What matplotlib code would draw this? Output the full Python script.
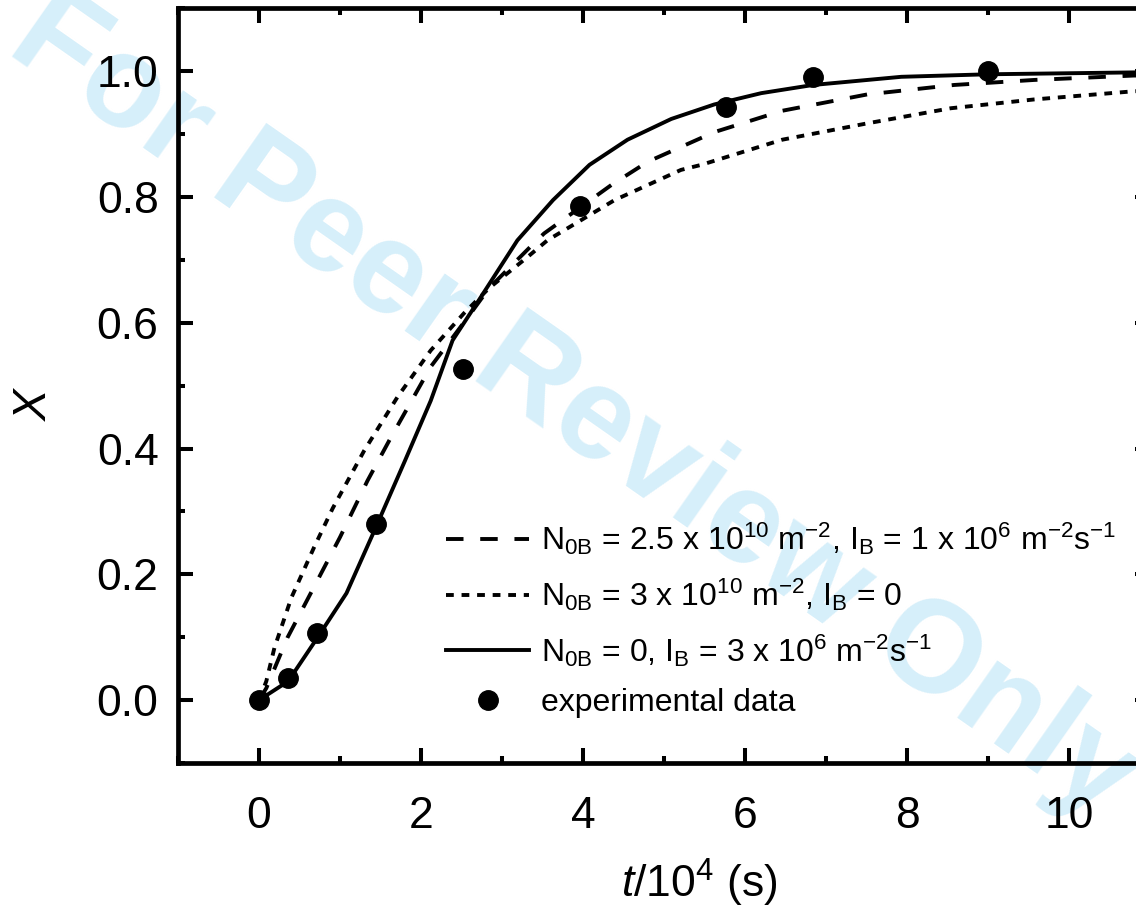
import numpy as np
import matplotlib.pyplot as plt

plt.rcParams['font.family'] = ['Liberation Sans', 'DejaVu Sans']
plt.rcParams['mathtext.fontset'] = 'custom'
plt.rcParams['mathtext.rm'] = 'Liberation Sans'
plt.rcParams['mathtext.it'] = 'Liberation Sans:italic'

# experimental points (t in 10^4 s)
t_exp = [0, 0.36, 0.72, 1.44, 2.52, 3.96, 5.76, 6.84, 9.0]
x_exp = [0, 0.035, 0.107, 0.280, 0.526, 0.785, 0.943, 0.991, 1.0]

# N0B = 0, IB = 3e6 (solid)
t_solid = [0, 0.36, 0.72, 1.08, 1.44, 1.8, 2.12, 2.39, 2.74, 3.19, 3.63, 4.08,
           4.55, 5.09, 5.62, 6.20, 6.84, 7.93, 9.0, 10.8, 11.0]
x_solid = [0, 0.030, 0.099, 0.17, 0.274, 0.38, 0.476, 0.572, 0.641, 0.731, 0.795,
           0.851, 0.891, 0.924, 0.947, 0.965, 0.978, 0.991, 0.995, 0.998, 0.998]

# N0B = 2.5e10, IB = 1e6 (dashed)
t_dash = [0, 0.09, 0.35, 0.72, 1.0, 1.34, 1.63, 2.12, 2.58, 2.84, 3.36, 3.52,
          4.35, 4.80, 5.62, 6.46, 7.51, 8.58, 9.57, 10.8, 11.0]
x_dash = [0, 0.019, 0.099, 0.19, 0.259, 0.349, 0.418, 0.530, 0.609, 0.655, 0.722,
          0.742, 0.819, 0.856, 0.903, 0.937, 0.963, 0.978, 0.986, 0.993, 0.993]

# N0B = 3e10, IB = 0 (dotted)
t_dot = [0, 0.09, 0.19, 0.40, 0.68, 0.91, 1.30, 1.71, 2.12, 2.53, 2.84, 3.32,
         3.56, 4.39, 5.21, 5.46, 6.46, 7.51, 8.54, 9.57, 10.8, 11.0]
x_dot = [0, 0.03, 0.083, 0.163, 0.243, 0.305, 0.397, 0.482, 0.556, 0.615, 0.655,
         0.705, 0.731, 0.795, 0.843, 0.851, 0.891, 0.917, 0.941, 0.955, 0.968, 0.969]

labels = [r'N$_{\rm 0B}$ = 2.5 x 10$^{10}$ m$^{-2}$, I$_{\rm B}$ = 1 x 10$^{6}$ m$^{-2}$s$^{-1}$',
          r'N$_{\rm 0B}$ = 3 x 10$^{10}$ m$^{-2}$, I$_{\rm B}$ = 0',
          r'N$_{\rm 0B}$ = 0, I$_{\rm B}$ = 3 x 10$^{6}$ m$^{-2}$s$^{-1}$',
          'experimental data']

fig = plt.figure(figsize=(11.36, 9.16), dpi=100)
ax = fig.add_axes([0.1567, 0.167, 0.8556, 0.824])
ax.set_facecolor('none')

lw = 2.8
ax.plot(t_dash, x_dash, color='k', lw=lw, dashes=(4.5, 4.3), label=labels[0])
ax.plot(t_dot, x_dot, color='k', lw=lw, dashes=(2.0, 2.0), label=labels[1])
ax.plot(t_solid, x_solid, color='k', lw=lw, label=labels[2])
ax.plot(t_exp, x_exp, 'o', color='k', ms=14, label=labels[3], zorder=5)

ax.set_xlim(-1, 11)
ax.set_ylim(-0.1, 1.1)
ax.set_xticks([0, 2, 4, 6, 8, 10])
ax.set_xticks(np.arange(-1, 11.5, 1), minor=True)
ax.set_yticks([0, 0.2, 0.4, 0.6, 0.8, 1.0])
ax.set_yticks(np.arange(-0.1, 1.15, 0.1), minor=True)
ax.set_yticklabels(['0.0', '0.2', '0.4', '0.6', '0.8', '1.0'])

ax.tick_params(which='both', direction='in', top=True, right=True, width=2.9, labelsize=32)
ax.tick_params(which='major', length=10.8)
ax.tick_params(which='minor', length=5)
ax.tick_params(axis='x', pad=24)
ax.tick_params(axis='y', pad=14)
for s in ax.spines.values():
    s.set_linewidth(3.4)

ax.set_xlabel(r'$t$/10$^{4}$ (s)', fontsize=32)
ax.xaxis.set_label_coords(0.536, -0.124)
ax.set_ylabel('X', fontsize=34, style='italic')
ax.yaxis.set_label_coords(-0.125, 0.474)

ax.legend(loc='lower left', bbox_to_anchor=(0.263, 0.043), frameon=False, fontsize=23,
          handlelength=2.6, handletextpad=0.35, labelspacing=0.6, borderaxespad=0)

fig.text(0.505, 0.555, 'For Peer Review Only', fontsize=94, fontweight='bold', color='#d6effa',
         rotation=-35, ha='center', va='center', zorder=-1)

fig.savefig('out.png', dpi=100)
